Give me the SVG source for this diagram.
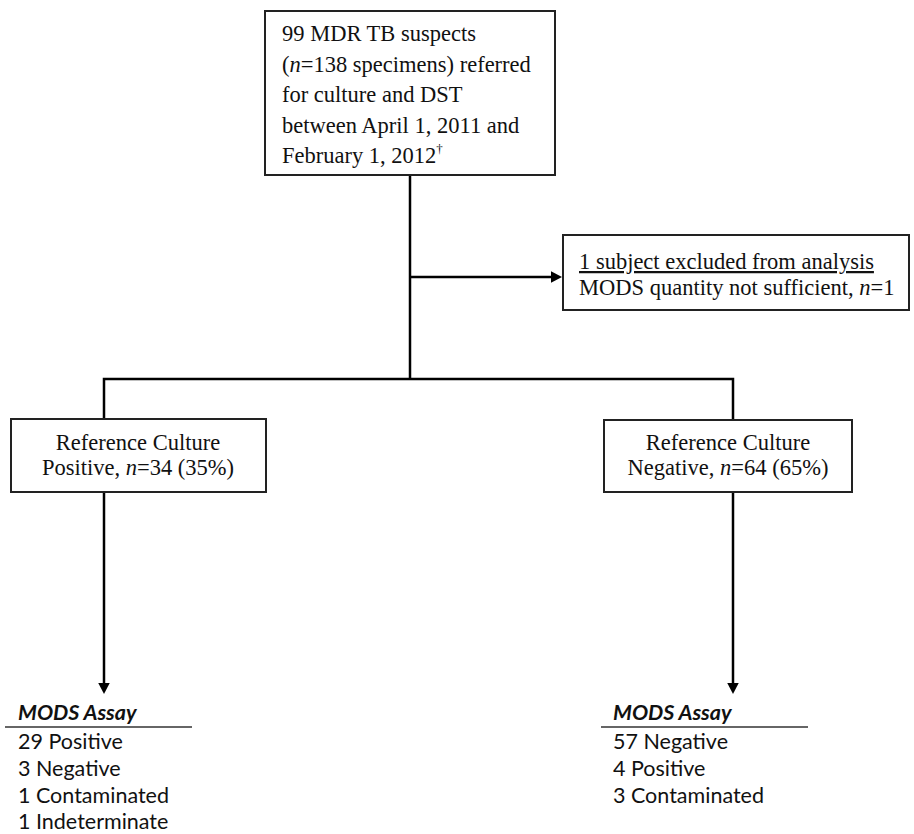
<svg xmlns="http://www.w3.org/2000/svg" width="914" height="834" viewBox="0 0 914 834">
<style>
.box{fill:#fff;stroke:#222;stroke-width:2}
.ln{fill:none;stroke:#000;stroke-width:2.5}
.t{font-family:"Liberation Serif","Times New Roman",serif;font-size:22.5px;fill:#111}
.c{font-family:Lato,"Open Sans",sans-serif;font-size:21.5px;fill:#111}
.h{font-family:Lato,"Open Sans",sans-serif;font-size:21.5px;font-weight:bold;font-style:italic;fill:#111}
</style>
<defs>
<marker id="ah" markerWidth="5" markerHeight="5" refX="3" refY="2.4" orient="auto" markerUnits="strokeWidth">
<path d="M0,0 L4.6,2.4 L0,4.8 z" fill="#000"/>
</marker>
</defs>
<rect width="914" height="834" fill="#fff"/>
<g id="connectors">
<path class="ln" d="M410,175 V379"/>
<path class="ln" d="M410,277 H558" marker-end="url(#ah)"/>
<path class="ln" d="M104,419 V379 H733 V420"/>
<path class="ln" d="M104,492 V690" marker-end="url(#ah)"/>
<path class="ln" d="M733,492 V690" marker-end="url(#ah)"/>
</g>
<g id="n-top">
<rect class="box" x="265" y="11" width="290" height="164"/>
<text class="t" x="282" y="41">99 MDR TB suspects</text>
<text class="t" x="282" y="72">(<tspan font-style="italic">n</tspan>=138 specimens) referred</text>
<text class="t" x="282" y="102">for culture and DST</text>
<text class="t" x="282" y="133">between April 1, 2011 and</text>
<text class="t" x="282" y="163">February 1, 2012<tspan font-size="13" dy="-10">†</tspan></text>
</g>
<g id="n-excl">
<rect class="box" x="563" y="235" width="346" height="75"/>
<text class="t" x="579" y="269" text-decoration="underline">1 subject excluded from analysis</text>
<text class="t" x="579" y="295">MODS quantity not sufficient, <tspan font-style="italic">n</tspan>=1</text>
</g>
<g id="n-pos">
<rect class="box" x="11" y="419" width="255" height="73"/>
<text class="t" x="138" y="450" text-anchor="middle">Reference Culture</text>
<text class="t" x="138" y="475" text-anchor="middle">Positive, <tspan font-style="italic">n</tspan>=34 (35%)</text>
</g>
<g id="n-neg">
<rect class="box" x="604" y="420" width="248" height="72"/>
<text class="t" x="728" y="450" text-anchor="middle">Reference Culture</text>
<text class="t" x="728" y="475" text-anchor="middle">Negative, <tspan font-style="italic">n</tspan>=64 (65%)</text>
</g>
<g id="n-mods-pos">
<text class="h" x="18" y="720">MODS Assay</text>
<path d="M5,727 H192" stroke="#333" stroke-width="1.5"/>
<text class="c" x="18" y="749">29 Positive</text>
<text class="c" x="18" y="776">3 Negative</text>
<text class="c" x="18" y="803">1 Contaminated</text>
<text class="c" x="18" y="829">1 Indeterminate</text>
</g>
<g id="n-mods-neg">
<text class="h" x="613" y="720">MODS Assay</text>
<path d="M601,727 H808" stroke="#333" stroke-width="1.5"/>
<text class="c" x="613" y="749">57 Negative</text>
<text class="c" x="613" y="776">4 Positive</text>
<text class="c" x="613" y="803">3 Contaminated</text>
</g>
</svg>
